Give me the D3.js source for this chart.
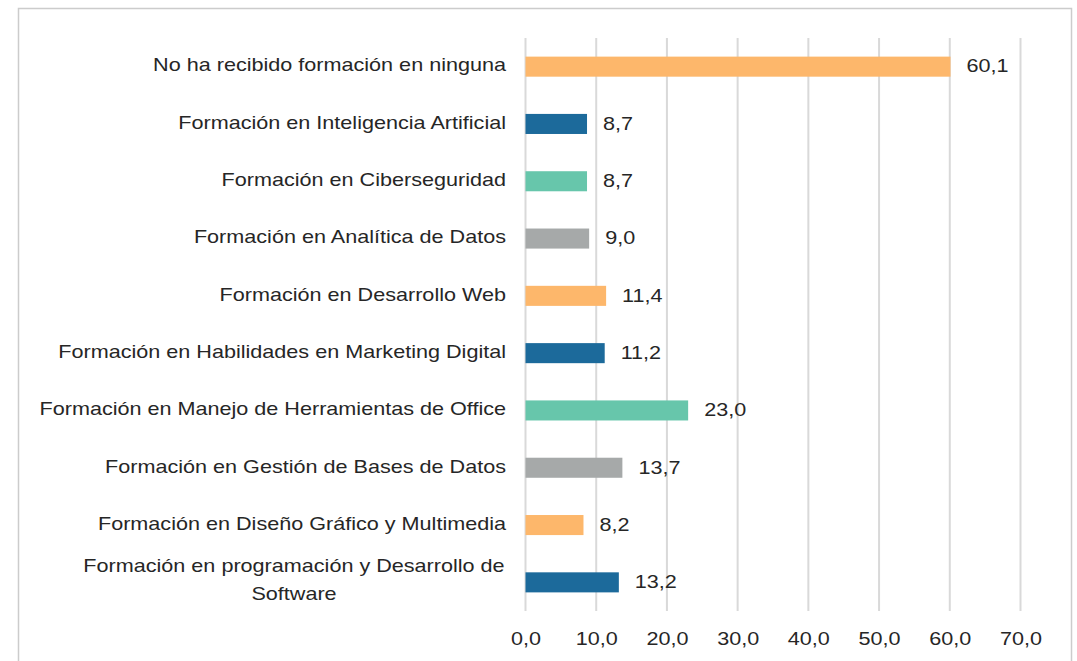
<!DOCTYPE html>
<html><head><meta charset="utf-8">
<script src="https://cdn.jsdelivr.net/npm/d3@7"></script>
<style>
html,body{margin:0;padding:0;background:#fff;}
svg text{font-family:"Liberation Sans",Arial,Helvetica,sans-serif;fill:#262626;}
</style></head>
<body>
<svg id="chart" width="1077" height="661"></svg>
<script>
const categories = [
  "No ha recibido formación en ninguna",
  "Formación en Inteligencia Artificial",
  "Formación en Ciberseguridad",
  "Formación en Analítica de Datos",
  "Formación en Desarrollo Web",
  "Formación en Habilidades en Marketing Digital",
  "Formación en Manejo de Herramientas de Office",
  "Formación en Gestión de Bases de Datos",
  "Formación en Diseño Gráfico y Multimedia",
  "Formación en programación y Desarrollo de Software"
];
const values = [60.1, 8.7, 8.7, 9.0, 11.4, 11.2, 23.0, 13.7, 8.2, 13.2];
const barColors = ["#fdb76b", "#1c6a9b", "#67c6ab", "#a6a9a9", "#fdb76b", "#1c6a9b", "#67c6ab", "#a6a9a9", "#fdb76b", "#1c6a9b"];
const tickValues = [0, 10, 20, 30, 40, 50, 60, 70];
const fmt = v => v.toFixed(1).replace(".", ",");
const SX = 1.2; // horizontal text stretch seen in the reference

const svg = d3.select("#chart");
// outer frame
svg.append("rect").attr("x", 18.5).attr("y", 8.5).attr("width", 1053).attr("height", 700)
  .attr("fill", "#fff").attr("stroke", "#cccccc").attr("stroke-width", 1.5);

const x = d3.scaleLinear().domain([0, 70]).range([525.5, 1020.5]);
const y = d3.scaleBand().domain(categories).range([38, 611]).paddingInner(0.65).paddingOuter(0.325);

// gridlines
svg.append("g").selectAll("line").data(tickValues).join("line")
  .attr("x1", d => x(d)).attr("x2", d => x(d)).attr("y1", 38).attr("y2", 611)
  .attr("stroke", "#d9d9d9").attr("stroke-width", 2);

// x axis tick labels
const xAxis = d3.axisBottom(x).tickValues(tickValues).tickFormat(fmt).tickSize(0).tickPadding(0);
const gx = svg.append("g").attr("transform", "translate(0,632)").call(xAxis);
gx.select(".domain").remove();
gx.selectAll(".tick text").attr("font-size", 18).attr("y", 0).attr("dy", "0.71em")
  .style("font-family", "Liberation Sans, Arial, sans-serif").attr("fill", "#262626")
  .attr("transform", `scale(${SX},1)`);

// bars
svg.append("g").selectAll("rect").data(values).join("rect")
  .attr("x", x(0)).attr("y", (d, i) => y(categories[i]))
  .attr("width", d => x(d) - x(0)).attr("height", y.bandwidth())
  .attr("fill", (d, i) => barColors[i]);

// value labels
svg.append("g").selectAll("g").data(values).join("g")
  .attr("transform", (d, i) => `translate(${x(d) + 16},${y(categories[i]) + y.bandwidth() / 2 + 1}) scale(${SX},1)`)
  .append("text").attr("dominant-baseline", "middle").attr("font-size", 18)
  .text(fmt);

// category labels
const wrapMap = {"Formación en programación y Desarrollo de Software": ["Formación en programación y Desarrollo de", "Software"]};
const lg = svg.append("g");
categories.forEach(c => {
  const cy = y(c) + y.bandwidth() / 2;
  if (wrapMap[c]) {
    const lines = wrapMap[c];
    lines.forEach((l, k) => {
      lg.append("g").attr("transform", `translate(294,${cy + (k - (lines.length - 1) / 2) * 28 - 1}) scale(${SX},1)`)
        .append("text").attr("text-anchor", "middle").attr("dominant-baseline", "middle")
        .attr("font-size", 18).text(l);
    });
  } else {
    lg.append("g").attr("transform", `translate(506,${cy}) scale(${SX},1)`)
      .append("text").attr("text-anchor", "end")
      .attr("dominant-baseline", "middle").attr("font-size", 18).text(c);
  }
});
</script>
</body></html>
